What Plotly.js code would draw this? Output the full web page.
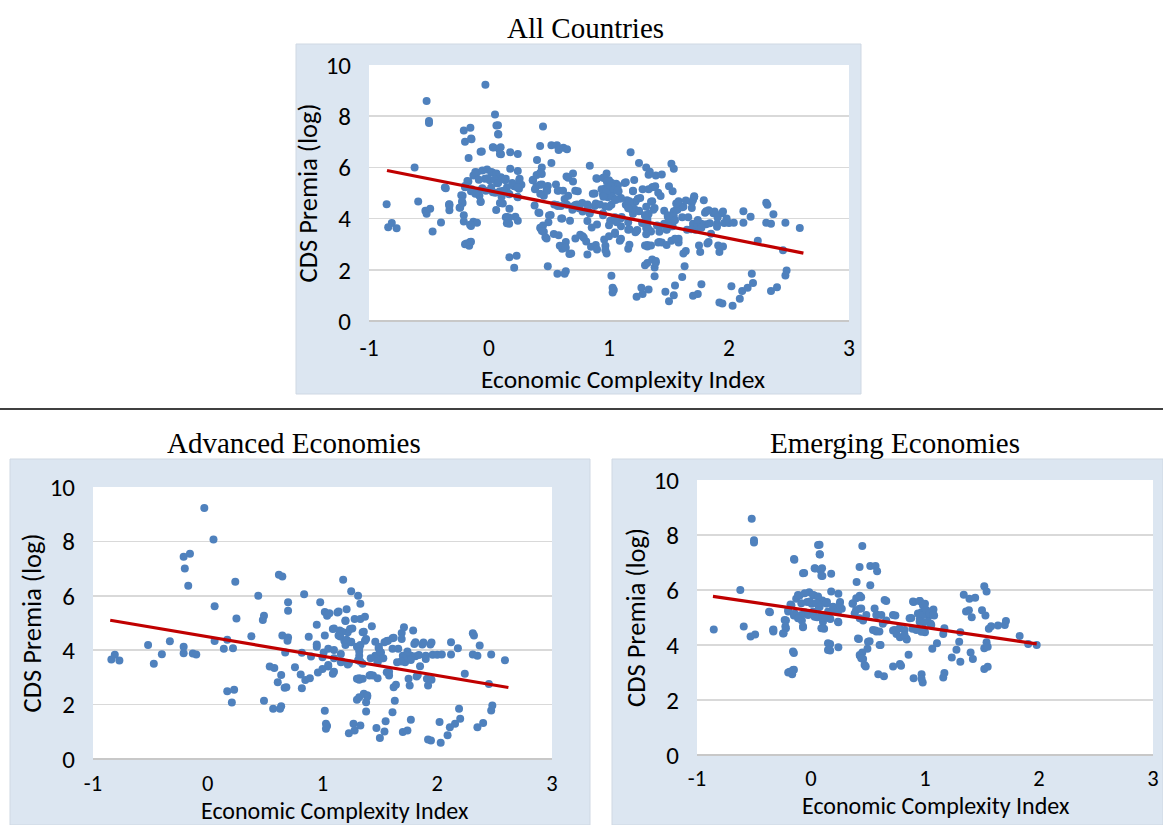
<!DOCTYPE html>
<html>
<head>
<meta charset="utf-8">
<script src="https://cdn.plot.ly/plotly-3.0.1.min.js"></script>
<style>html,body{margin:0;padding:0;background:#fff;}#chart{width:1163px;height:825px;}</style>
</head>
<body>
<div id="chart"></div>
<script>
// ---- Data: [Economic Complexity Index, CDS Premia (log)] ----
const advancedPoints = [
[-0.84,3.66],[-0.81,3.83],[-0.77,3.62],[-0.52,4.19],[-0.47,3.50],[-0.40,3.85],[-0.33,4.33],
[-0.21,7.44],[-0.155,7.55],[-0.20,7.00],[-0.17,6.37],[-0.21,4.13],[-0.21,3.89],[-0.13,3.88],[-0.10,3.84],
[-0.03,9.23],[0.05,8.07],[0.06,5.62],[0.06,4.34],[0.17,4.38],[0.14,4.05],[0.22,4.07],[0.17,2.49],[0.23,2.55],
[0.21,2.08],[0.24,6.52],[0.25,5.17],[0.38,4.51],[0.44,6.00],[0.48,5.11],[0.49,5.27],[0.49,2.14],[0.54,3.40],
[0.58,3.35],[0.57,1.85],[0.64,1.94],[0.63,1.85],[0.62,6.77],[0.65,6.71],[0.64,3.09],[0.61,2.82],[0.67,2.62],
[0.685,2.64],[0.65,4.54],[0.70,4.47],[0.695,4.35],[0.70,5.76],[0.70,5.45],[0.675,3.92],[0.76,3.37],[0.81,3.11],
[0.82,2.60],[0.85,2.90],[0.89,2.97],[0.84,6.06],[0.88,4.49],[0.82,3.91],[0.90,3.77],[0.95,4.94],[0.95,4.21],
[0.95,4.13],[0.96,3.18],[0.98,5.76],[1.02,5.40],[1.04,5.27],[1.02,4.54],[1.01,3.92],[1.00,3.74],[1.02,1.77],
[1.03,1.30],[1.03,1.11],[1.04,1.21],[1.05,4.05],[1.05,3.40],[1.00,3.31],[1.09,4.78],[1.09,3.13],[1.10,3.70],
[1.13,5.39],[1.14,4.54],[1.15,4.72],[1.16,3.86],[1.16,3.56],[1.18,6.59],[1.19,4.35],[1.20,5.09],[1.21,5.51],
[1.20,4.19],[1.22,4.66],[1.22,3.47],[1.23,0.95],[1.25,6.17],[1.24,4.78],[1.25,4.29],[1.27,1.30],[1.28,5.15],
[1.28,1.05],[1.30,2.95],[1.31,6.00],[1.33,5.71],[1.33,5.15],[1.30,4.13],[1.32,4.07],[1.32,3.80],[1.31,3.63],
[1.30,2.18],[1.32,2.27],[1.33,1.23],[1.32,2.91],[1.35,2.95],[1.37,5.23],[1.35,4.66],[1.37,4.35],[1.35,3.50],
[1.36,2.40],[1.39,2.34],[1.38,2.09],[1.38,1.75],[1.41,3.07],[1.43,4.88],[1.44,3.07],[1.46,3.80],[1.48,3.56],
[1.48,2.97],[1.47,1.14],[1.50,0.77],[1.49,4.07],[1.51,3.92],[1.52,3.70],[1.54,4.29],[1.55,1.39],[1.54,1.01],
[1.56,3.19],[1.58,3.07],[1.57,4.35],[1.61,4.44],[1.61,1.72],[1.63,2.14],[1.62,2.64],[1.64,2.73],[1.61,4.05],
[1.65,3.56],[1.66,4.05],[1.69,4.63],[1.71,4.84],[1.70,0.99],[1.74,1.05],[1.77,1.44],[1.70,3.80],[1.72,3.56],
[1.735,3.74],[1.75,2.95],[1.76,2.70],[1.77,3.80],[1.79,4.72],[1.80,4.23],[1.81,3.78],[1.82,3.03],[1.85,3.41],
[1.87,4.21],[1.90,3.80],[1.90,3.68],[1.91,2.95],[1.92,2.70],[1.92,0.72],[1.945,0.68],[1.94,4.21],[1.95,2.91],
[1.96,3.83],[2.00,3.83],[2.02,1.36],[2.03,0.60],[2.04,3.84],[2.09,0.87],[2.11,1.17],[2.12,4.29],[2.12,3.84],
[2.155,1.30],[2.18,4.07],[2.19,1.85],[2.20,1.48],[2.24,3.13],[2.31,4.62],[2.32,4.54],[2.31,3.84],[2.35,3.80],
[2.35,1.17],[2.37,4.17],[2.40,1.32],[2.45,2.76],[2.47,3.84],[2.47,1.78],[2.48,1.97],[2.59,3.63],
[1.06,5.36],[1.14,5.42],[1.10,4.80],[1.20,5.07],[1.17,4.68],[1.26,4.80],[1.155,4.50],[1.21,4.38],[1.25,4.31],
[1.36,4.68],[1.38,4.41],[1.33,4.19],[1.32,3.95],[1.46,4.31],[1.49,4.13],[1.50,3.95],[1.56,4.34],[1.62,4.46],
[1.69,4.41],[1.81,4.29],[1.74,3.95],[1.77,3.64],[1.685,3.58],[1.84,3.82],[1.88,4.28],[1.95,4.28],[1.10,4.01],
[1.17,3.58],[1.23,3.52],[1.33,3.58],[1.42,3.70],[1.48,3.58],[1.53,3.70],[1.58,3.21],[1.83,3.09],[1.05,3.46],
[1.10,3.21],[1.32,2.97],[1.42,3.09],[1.39,2.29]
];

const emergingPoints = [
[-0.853,4.56],[-0.62,6.00],[-0.59,4.67],[-0.52,8.59],[-0.50,7.81],[-0.50,7.73],[-0.53,4.31],[-0.49,4.38],
[-0.36,5.19],[-0.33,4.56],[-0.33,4.49],[-0.24,4.43],[-0.22,4.61],[-0.22,4.89],[-0.20,3.00],[-0.165,2.94],
[-0.15,3.10],[-0.15,3.71],[-0.146,7.10],[-0.20,5.22],[-0.18,5.47],[-0.13,5.68],[-0.10,5.80],[-0.06,6.62],
[-0.07,4.65],[-0.08,4.89],[-0.15,5.07],[-0.056,5.19],[-0.034,5.56],[-0.016,5.92],[0.006,5.50],[0.028,5.80],
[0.037,6.78],[0.075,7.65],[0.078,7.29],[0.084,6.72],[0.10,6.51],[0.09,5.07],[0.053,5.01],[0.115,4.59],
[0.10,5.62],[0.068,5.38],[0.177,6.59],[0.177,5.95],[0.14,5.56],[0.15,5.22],[0.17,4.95],[0.21,5.26],
[0.24,5.86],[0.255,5.56],[0.24,4.83],[0.168,4.04],[0.168,3.80],[0.24,3.92],[0.27,5.32],[0.364,5.50],
[0.395,5.26],[0.40,6.29],[0.426,6.84],[0.44,5.74],[0.45,7.60],[0.426,5.32],[0.457,4.89],[0.42,4.22],
[0.43,3.61],[0.45,3.73],[0.457,3.49],[0.48,3.22],[0.495,3.86],[0.52,6.17],[0.514,4.14],[0.52,6.87],
[0.566,6.87],[0.58,6.68],[0.566,4.53],[0.60,4.49],[0.58,5.10],[0.61,4.00],[0.59,2.94],[0.64,2.86],
[0.66,5.60],[0.66,4.89],[0.63,4.77],[0.72,3.22],[0.74,5.07],[0.72,4.53],[0.75,4.40],[0.78,4.28],
[0.79,3.25],[0.78,3.31],[0.84,4.20],[0.856,3.65],[0.88,4.98],[0.89,4.59],[0.90,5.56],[0.90,2.79],
[0.955,5.60],[0.97,2.94],[0.98,2.64],[0.97,2.76],[0.955,4.95],[0.97,5.19],[0.99,4.83],[1.00,5.50],
[1.00,4.46],[1.03,5.07],[1.05,4.77],[1.064,5.19],[1.074,5.29],[1.08,5.07],[1.064,3.86],[1.105,4.06],
[1.16,2.82],[1.17,2.98],[1.17,4.61],[1.16,4.40],[1.235,3.55],[1.276,3.83],[1.30,4.12],[1.31,3.39],
[1.31,4.46],[1.34,5.83],[1.36,5.22],[1.385,5.26],[1.39,5.68],[1.44,5.72],[1.41,5.01],[1.40,3.73],
[1.42,3.49],[1.50,5.26],[1.52,6.14],[1.54,5.95],[1.53,5.07],[1.52,3.88],[1.54,4.10],[1.55,3.94],
[1.52,3.13],[1.55,3.21],[1.56,4.59],[1.58,4.68],[1.64,4.71],[1.70,4.73],[1.71,4.87],[1.83,4.33],
[1.905,4.04],[1.98,4.00],
[0.134,5.51],[0.193,5.39],[0.251,5.48],[0.237,5.21],[0.163,4.97],[0.237,4.85],[0.105,4.85],
[0.368,5.52],[0.397,5.70],[0.427,5.79],[0.441,5.33],[0.383,5.15],[0.427,4.97],[0.485,5.09],[0.558,5.33],
[0.573,5.09],[0.617,5.09],[0.646,5.64],[0.544,4.55],[0.573,4.49],[0.412,4.24],[0.50,4.12],[0.602,4.00],
[0.427,3.64],[0.441,3.52],[0.47,3.27],
[0.719,5.09],[0.734,4.55],[0.777,4.61],[0.821,4.55],[0.865,4.97],[0.895,5.58],[0.953,5.60],[0.982,5.45],
[0.938,5.15],[0.982,5.09],[1.011,5.27],[1.04,5.15],[1.026,4.85],[1.055,4.73],[0.968,4.48],[0.924,4.55],
[1.07,5.09],[0.953,4.85],[0.836,4.24],[0.821,4.36],
[-0.114,5.82],[-0.055,5.88],[0.018,5.82],[0.062,5.76],[-0.172,5.45],[-0.085,5.52],[-0.011,5.58],[0.047,5.52],
[-0.20,5.27],[-0.143,5.15],[-0.085,5.09],[-0.026,5.09],[0.032,5.03],[0.105,4.97],[0.135,5.52],[0.091,4.61],
[0.12,5.09],[-0.070,4.67],[-0.231,4.91],[-0.225,4.67],[-0.245,4.42],[-0.333,4.55],[-0.368,5.21],[-0.114,4.97],
[0.018,5.21],[0.076,5.39],[0.062,7.64],[0.076,7.30],[-0.149,7.13],[-0.07,6.61],[0.032,6.79],[0.097,6.79],
[0.091,6.52],[-0.158,3.76],[-0.187,3.03],[-0.158,3.09],[0.149,4.06],[0.149,3.82]
];

// Linear trend lines as drawn in the reference
const trendAllX = [-0.85, 2.62], trendAllY = [5.88, 2.65];
const trendAdvX = [-0.85, 2.62], trendAdvY = [5.10, 2.63];
const trendEmgX = [-0.86, 1.98], trendEmgY = [5.77, 4.04];

const xTickVals = [-1, 0, 1, 2, 3];
const xTickText = ['-1', '0', '1', '2', '3'];
const yTickVals = [0, 2, 4, 6, 8, 10];

const panelTitles = ['All Countries', 'Advanced Economies', 'Emerging Economies'];
const xTitle = 'Economic Complexity Index';
const yTitle = 'CDS Premia (log)';

// ---- Build ----
const allPoints = advancedPoints.concat(emergingPoints);
const W = 1163, H = 825;
const px = v => v / W, py = v => 1 - v / H;

const blue = '#4f81bd', red = '#c00000';
const sans = 'Carlito, Calibri, "Open Sans", sans-serif';
const serif = '"Liberation Serif", "Times New Roman", serif';

function scatter(pts, xa, ya) {
  return {type: 'scatter', mode: 'markers', x: pts.map(p => p[0]), y: pts.map(p => p[1]),
    xaxis: xa, yaxis: ya, marker: {color: blue, size: 8}, hoverinfo: 'x+y', showlegend: false};
}
function trend(xs, ys, xa, ya) {
  return {type: 'scatter', mode: 'lines', x: xs, y: ys, xaxis: xa, yaxis: ya,
    line: {color: red, width: 3.2}, hoverinfo: 'skip', showlegend: false};
}

const traces = [
  scatter(allPoints, 'x', 'y'), trend(trendAllX, trendAllY, 'x', 'y'),
  scatter(advancedPoints, 'x2', 'y2'), trend(trendAdvX, trendAdvY, 'x2', 'y2'),
  scatter(emergingPoints, 'x3', 'y3'), trend(trendEmgX, trendEmgY, 'x3', 'y3')
];

function xax(d0, d1, anchor, tl, fs) {
  return {domain: [px(d0), px(d1)], anchor: anchor, range: [-1, 3], tickvals: xTickVals, ticktext: xTickText,
    showgrid: false, zeroline: false, showline: false, ticks: 'outside', ticklen: tl, tickcolor: 'rgba(0,0,0,0)',
    tickfont: {family: sans, size: fs, color: '#000'}, fixedrange: true};
}
function yax(top, bottom, anchor) {
  return {domain: [py(bottom), py(top)], anchor: anchor, range: [0, 10], tickvals: yTickVals,
    showgrid: true, gridcolor: '#d9d9d9', gridwidth: 1.5, zeroline: true, zerolinecolor: '#c8c8c8', zerolinewidth: 1.5,
    showline: false, ticks: 'outside', ticklen: 12, tickcolor: 'rgba(0,0,0,0)',
    tickfont: {family: sans, size: 25, color: '#000'},
    title: {text: yTitle, font: {family: sans, size: 26.5, color: '#000'}, standoff: 0}, fixedrange: true};
}
function xTitleNote(cx, cy, fs) {
  return {text: xTitle, xref: 'paper', yref: 'paper', x: px(cx), y: py(cy), showarrow: false,
    xanchor: 'center', yanchor: 'middle', borderpad: 0, font: {family: sans, size: fs, color: '#000'}};
}
function panelTitle(t, cx, cy) {
  return {text: t, xref: 'paper', yref: 'paper', x: px(cx), y: py(cy), showarrow: false,
    xanchor: 'center', yanchor: 'middle', font: {family: serif, size: 29, color: '#000'}};
}

const bg = '#dce6f1';
const layout = {
  width: W, height: H, margin: {l: 0, r: 0, t: 0, b: 0}, paper_bgcolor: '#ffffff', plot_bgcolor: '#ffffff',
  showlegend: false,
  xaxis: xax(369, 849, 'y', 6, 23.5), yaxis: yax(65, 321, 'x'),
  xaxis2: xax(93, 552, 'y2', 4, 22.5), yaxis2: yax(487, 759, 'x2'),
  xaxis3: xax(697, 1153, 'y3', 3, 22.5), yaxis3: yax(480, 755, 'x3'),
  shapes: [
    {type: 'rect', xref: 'paper', yref: 'paper', x0: px(296), x1: px(861), y0: py(394), y1: py(44), fillcolor: bg, line: {color: '#cfd8e3', width: 1}, layer: 'below'},
    {type: 'rect', xref: 'paper', yref: 'paper', x0: px(10), x1: px(590), y0: py(825), y1: py(459), fillcolor: bg, line: {color: '#cfd8e3', width: 1}, layer: 'below'},
    {type: 'rect', xref: 'paper', yref: 'paper', x0: px(612), x1: px(1163), y0: py(825), y1: py(459), fillcolor: bg, line: {color: '#cfd8e3', width: 1}, layer: 'below'},
    {type: 'rect', xref: 'x domain', yref: 'y domain', x0: 0, x1: 1, y0: 0, y1: 1, fillcolor: '#fff', line: {width: 0}, layer: 'below'},
    {type: 'rect', xref: 'x2 domain', yref: 'y2 domain', x0: 0, x1: 1, y0: 0, y1: 1, fillcolor: '#fff', line: {width: 0}, layer: 'below'},
    {type: 'rect', xref: 'x3 domain', yref: 'y3 domain', x0: 0, x1: 1, y0: 0, y1: 1, fillcolor: '#fff', line: {width: 0}, layer: 'below'},
    {type: 'line', xref: 'paper', yref: 'paper', x0: 0, x1: 1, y0: py(409), y1: py(409), line: {color: '#000', width: 1.5}}
  ],
  annotations: [
    panelTitle(panelTitles[0], 585, 28),
    panelTitle(panelTitles[1], 294, 443),
    panelTitle(panelTitles[2], 895, 443),
    xTitleNote(623, 379, 25.5),
    xTitleNote(335, 810, 24),
    xTitleNote(936, 805, 24)
  ]
};

Plotly.newPlot('chart', traces, layout, {displayModeBar: false, staticPlot: true});
</script>
</body>
</html>
